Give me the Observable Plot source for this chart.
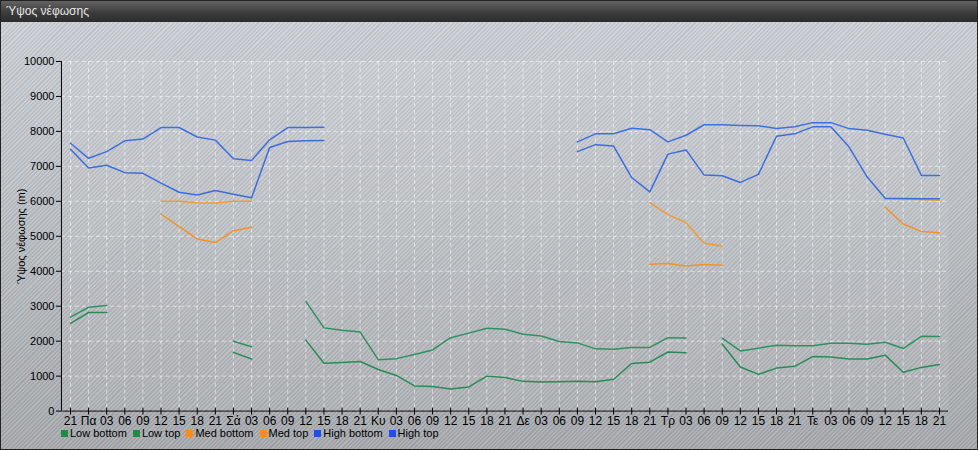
<!DOCTYPE html>
<html>
<head>
<meta charset="utf-8">
<script src="https://cdn.jsdelivr.net/npm/d3@7"></script>
<script src="https://cdn.jsdelivr.net/npm/@observablehq/plot@0.6"></script>
<style>
  html, body { margin: 0; padding: 0; }
  body { width: 978px; height: 450px; overflow: hidden; font-family: "Liberation Sans", Arial, sans-serif; }
  #panel {
    position: relative; width: 976px; height: 448px; border: 1px solid #222;
    background:
      repeating-linear-gradient(135deg, rgba(255,255,255,0.13) 0px, rgba(255,255,255,0.13) 1.5px, rgba(60,70,90,0.07) 1.5px, rgba(60,70,90,0.07) 3px),
      linear-gradient(#ccd0d5, #b9bdc1 50%, #a4a7aa);
  }
  #title {
    height: 21px; background: linear-gradient(#626262, #3a3a3a 60%, #2c2c2c);
    color: #e6e6e6; font-size: 12px; line-height: 21px; padding-left: 5px;
  }
  #chart { position: absolute; left: -1px; top: 22px; }
  #legend { position: absolute; left: 60px; top: 426px; display: flex; font-size: 11px; line-height: 12px; color: #000; }
  .item { display: flex; align-items: center; margin-right: 6px; }
  .sw { width: 7px; height: 7px; margin-right: 2px; margin-top: 1px; }
</style>
</head>
<body>
<div id="panel">
  <div id="title">Ύψος νέφωσης</div>
  <div id="chart"></div>
  <div id="legend"></div>
</div>
<script>
const tickLabels = ["21","Πα","03","06","09","12","15","18","21","Σά","03","06","09","12","15","18","21","Κυ","03","06","09","12","15","18","21","Δε","03","06","09","12","15","18","21","Τρ","03","06","09","12","15","18","21","Τε","03","06","09","12","15","18","21"];

const seriesNames = ["Low bottom","Low top","Med bottom","Med top","High bottom","High top"];
const lineColors = ["#2b8a55","#2f9160","#f39226","#f59a30","#3a6de0","#3d70e2"];
const swatchColors = ["#1d8a45","#1d8a45","#ff8c1a","#ff8c1a","#1f4fe6","#1f4fe6"];

const lowBottom = [2510,2820,2820,null,null,null,null,null,null,1680,1490,null,null,2030,1370,1390,1420,1190,1020,720,700,630,690,1000,960,850,830,840,850,840,910,1360,1400,1690,1670,null,1920,1260,1050,1230,1280,1560,1550,1490,1490,1600,1110,1250,1330];
const lowTop = [2690,2970,3020,null,null,null,null,null,null,2000,1840,null,null,3140,2380,2310,2260,1470,1500,1620,1750,2100,2230,2370,2340,2200,2150,1990,1950,1780,1770,1820,1820,2100,2090,null,2090,1720,1800,1880,1870,1870,1940,1940,1910,1970,1790,2140,2130];
const medBottom = [null,null,null,null,null,5630,5280,4920,4820,5160,5260,null,null,null,null,null,null,null,null,null,null,null,null,null,null,null,null,null,null,null,null,null,4200,4220,4150,4190,4170,null,null,null,null,null,null,null,null,5830,5350,5140,5100];
const medTop = [null,null,null,null,null,6000,6000,5960,5950,6000,6000,null,null,null,null,null,null,null,null,null,null,null,null,null,null,null,null,null,null,null,null,null,5960,5620,5390,4800,4720,null,null,null,null,null,null,null,null,6060,6060,6050,6030];
const highBottom = [7490,6950,7030,6820,6800,6520,6260,6180,6310,6200,6100,7540,7710,7730,7740,null,null,null,null,null,null,null,null,null,null,null,null,null,7420,7620,7580,6680,6270,7350,7470,6750,6730,6540,6770,7860,7930,8130,8130,7560,6700,6090,6080,6070,6070];
const highTop = [7660,7230,7420,7730,7780,8110,8110,7840,7750,7220,7170,7760,8110,8110,8120,null,null,null,null,null,null,null,null,null,null,null,null,null,7700,7930,7930,8090,8050,7700,7890,8190,8190,8170,8160,8080,8130,8250,8250,8080,8030,7920,7810,6740,6740];

const yTicks = [0,1000,2000,3000,4000,5000,6000,7000,8000,9000,10000];
const seriesValues = [lowBottom, lowTop, medBottom, medTop, highBottom, highTop];
const xIdx = tickLabels.map((_, i) => i);

const lineMarks = seriesValues.map((vals, s) =>
  Plot.line(vals.map((v, i) => ({x: i, y: v})), {
    x: "x", y: "y", stroke: lineColors[s], strokeWidth: 1.5, curve: "linear"
  })
);

const chart = Plot.plot({
  width: 978,
  height: 428,
  marginTop: 38,
  marginBottom: 40,
  marginLeft: 61,
  marginRight: 29,
  style: {background: "transparent", fontFamily: "'Liberation Sans', Arial, sans-serif", fontSize: "11px", color: "#000", overflow: "visible"},
  x: {domain: [-0.5, tickLabels.length - 0.5]},
  y: {domain: [0, 10000]},
  marks: [
    Plot.frame({fill: "white", fillOpacity: 0.07, stroke: null}),
    Plot.gridY(yTicks, {stroke: "#fff", strokeOpacity: 0.55, strokeDasharray: "4,3", strokeWidth: 1}),
    Plot.gridX(xIdx, {stroke: "#fff", strokeOpacity: 0.55, strokeDasharray: "4,3", strokeWidth: 1}),
    ...lineMarks,
    Plot.ruleY([0], {stroke: "#000", strokeWidth: 1}),
    Plot.ruleX([-0.5], {y1: 0, y2: 10000, stroke: "#000", strokeWidth: 1}),
    Plot.ruleX(xIdx, {x: d => d, y1: 0, y2: 0, insetTop: -3, insetBottom: -4, stroke: "#000"}),
    Plot.axisX(xIdx, {tickSize: 0, tickPadding: 5, tickFormat: i => tickLabels[i], fontSize: 12, label: null}),
    Plot.axisY(yTicks, {tickSize: 5, tickPadding: 2, tickFormat: d => String(d), fontSize: 11, label: "Ύψος νέφωσης (m)", labelAnchor: "center", labelArrow: "none", labelOffset: 44})
  ]
});
document.getElementById("chart").appendChild(chart);

const legend = document.getElementById("legend");
seriesNames.forEach((name, s) => {
  const item = document.createElement("div");
  item.className = "item";
  const sw = document.createElement("span");
  sw.className = "sw";
  sw.style.background = swatchColors[s];
  const t = document.createElement("span");
  t.textContent = name;
  item.appendChild(sw);
  item.appendChild(t);
  legend.appendChild(item);
});
</script>
</body>
</html>
